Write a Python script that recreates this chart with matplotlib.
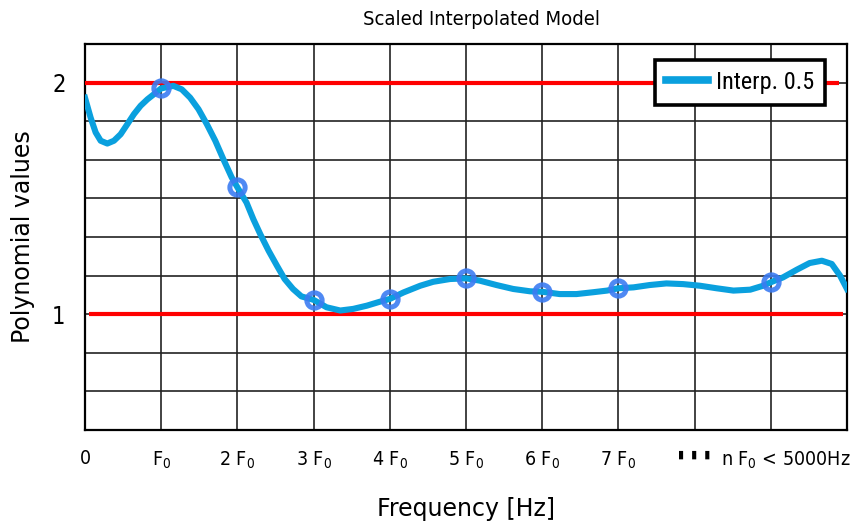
import matplotlib
matplotlib.use("Agg")
import matplotlib.pyplot as plt
import matplotlib.transforms as mtransforms
import numpy as np

cond = {"family": "DejaVu Sans", "stretch": "condensed"}
plt.rcParams["mathtext.fontset"] = "custom"
plt.rcParams["mathtext.rm"] = "DejaVu Sans:stretch=condensed"
plt.rcParams["mathtext.it"] = "DejaVu Sans:stretch=condensed"

# interpolated model curve (x in multiples of F0)
curve_x = [0, 0.074, 0.14, 0.206, 0.293, 0.38, 0.468, 0.555, 0.643, 0.73, 0.82,
           0.905, 1.0, 1.16, 1.27, 1.38, 1.49, 1.60, 1.71, 1.815, 1.925, 2.0,
           2.12, 2.21, 2.30, 2.41, 2.52, 2.62, 2.73, 2.84, 3.0, 3.17, 3.35, 3.52,
           3.70, 3.87, 4.0, 4.18, 4.40, 4.57, 4.79, 5.0, 5.18, 5.40, 5.62, 5.84,
           6.0, 6.23, 6.45, 6.67, 6.85, 7.0, 7.20, 7.41, 7.63, 7.85, 8.07, 8.29,
           8.51, 8.73, 8.90, 9.0, 9.16, 9.34, 9.51, 9.67, 9.80, 9.91, 10.0]
curve_y = [1.935, 1.849, 1.785, 1.749, 1.737, 1.749, 1.777, 1.820, 1.864, 1.900,
           1.928, 1.950, 1.975, 1.986, 1.971, 1.935, 1.885, 1.820, 1.749, 1.670,
           1.591, 1.548, 1.482, 1.410, 1.346, 1.274, 1.209, 1.152, 1.109, 1.077,
           1.062, 1.030, 1.016, 1.023, 1.037, 1.054, 1.066, 1.094, 1.123, 1.140,
           1.152, 1.155, 1.145, 1.126, 1.109, 1.099, 1.097, 1.087, 1.087, 1.095,
           1.102, 1.112, 1.116, 1.126, 1.133, 1.130, 1.123, 1.112, 1.102, 1.106,
           1.123, 1.138, 1.159, 1.192, 1.221, 1.231, 1.217, 1.166, 1.109]

# harmonic sample points
harm_x = [1, 2, 3, 4, 5, 6, 7, 9]
harm_y = [1.977, 1.548, 1.062, 1.066, 1.155, 1.097, 1.112, 1.138]

# reference levels
ref_levels = [1, 2]
ref_start = [0.05, 0.0]
ref_end = [9.95, 9.9]

x_ticks = list(range(11))
x_labels = ["0", "F$_0$", "2 F$_0$", "3 F$_0$", "4 F$_0$", "5 F$_0$", "6 F$_0$",
            "7 F$_0$", "\u25ae  \u25ae  \u25ae", "n F$_0$ < 5000Hz", ""]
y_min, y_max = 0.5, 13 / 6
y_grid = np.linspace(y_min, y_max, 11)

fig = plt.figure(figsize=(8.54, 5.29), dpi=100)
ax = fig.add_axes([0.0995, 0.1871, 0.8923, 0.7297])

ax.hlines(ref_levels, ref_start, ref_end, color="#ff0000", lw=3, zorder=3)
ax.plot(curve_x, curve_y, color="#0aa0de", lw=4.4, solid_joinstyle="round",
        label="Interp. 0.5", zorder=4)
ax.plot(harm_x, harm_y, "o", ms=11, mfc="none", mec="#3c7cf2", mew=3.6,
        alpha=0.9, zorder=5)

ax.set_xlim(0, 10)
ax.set_ylim(y_min, y_max)
ax.set_xticks(x_ticks)
ax.set_xticklabels(x_labels, fontsize=14, **cond)
ax.set_yticks(y_grid)
ax.set_yticklabels(["1" if abs(v - 1) < 1e-6 else "2" if abs(v - 2) < 1e-6 else ""
                    for v in y_grid], fontsize=17, **cond)
ax.tick_params(length=0)
ax.tick_params(axis="x", pad=14)
ax.tick_params(axis="y", pad=14)
ax.grid(True, color="#222222", lw=1.2)
ax.set_axisbelow(True)
for s in ax.spines.values():
    s.set_linewidth(1.6)

# small dots label; last label sits a bit right of its tick
lbls = ax.get_xticklabels()
lbls[8].set_fontstretch("normal")
lbls[8].set_fontsize(8)
lbls[9].set_transform(lbls[9].get_transform() +
                      mtransforms.ScaledTranslation(15 / 100, 0, fig.dpi_scale_trans))

ax.set_xlabel("Frequency [Hz]", fontsize=17)
ax.xaxis.set_label_coords(0.5, -0.173)
ax.set_ylabel("Polynomial values", fontsize=17)
ax.yaxis.set_label_coords(-0.066, 0.5)
fig.text(0.564, 0.964, "Scaled Interpolated Model", fontsize=14.5, ha="center",
         va="center", **cond)

leg = ax.legend(loc="upper right", bbox_to_anchor=(0.971, 0.959), borderaxespad=0,
                fancybox=False, framealpha=1, edgecolor="black",
                prop={"family": ["Roboto Condensed", "DejaVu Sans"], "size": 17.5},
                handlelength=1.75, handletextpad=0.3, borderpad=0.45)
leg.get_frame().set_linewidth(2.6)
leg.get_lines()[0].set_linewidth(5.5)

fig.savefig("out.png", dpi=100)
